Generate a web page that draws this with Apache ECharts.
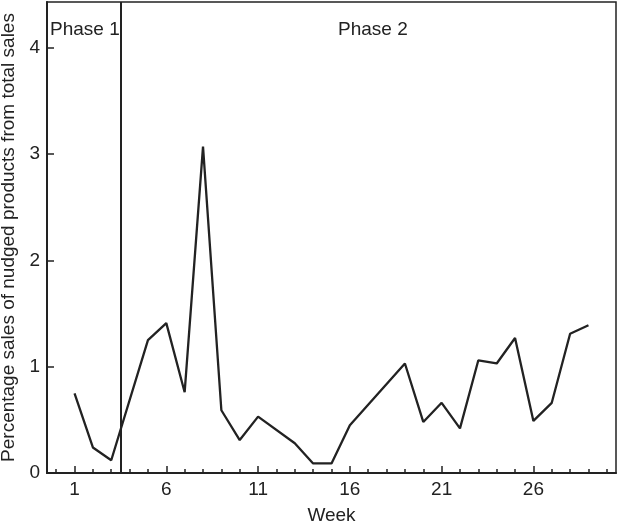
<!DOCTYPE html>
<html><head><meta charset="utf-8">
<script src="https://cdn.jsdelivr.net/npm/echarts@6/dist/echarts.min.js"></script>
<style>html,body{margin:0;padding:0;background:#fff}#c{width:618px;height:531px}</style>
</head><body><div id="c"></div>
<script>
const weeks = [1, 2, 3, 5, 6, 7, 8, 9, 10, 11, 13, 14, 15, 16, 19, 20, 21, 22, 23, 24, 25, 26, 27, 28, 29];
const share = [0.75, 0.24, 0.12, 1.25, 1.41, 0.76, 3.07, 0.59, 0.31, 0.53, 0.28, 0.09, 0.09, 0.45, 1.03, 0.48, 0.66, 0.42, 1.06, 1.03, 1.27, 0.49, 0.66, 1.31, 1.39];
const xMajorTicks = [1, 6, 11, 16, 21, 26];
const xMinorTicks = [0,1,2,3,4,5,6,7,8,9,10,11,12,13,14,15,16,17,18,19,20,21,22,23,24,25,26,27,28,29,30];
const yTicks = [0, 1, 2, 3, 4];
const phaseBoundary = 3.5;
const phaseLabels = ['Phase 1', 'Phase 2'];

const ink = '#222';
const font = 'Liberation Sans, Arial, sans-serif';
const chart = echarts.init(document.getElementById('c'), null, {renderer: 'canvas'});
chart.setOption({
  animation: false,
  backgroundColor: '#fff',
  grid: {left: 47, right: 2, top: 2, bottom: 58, show: true, borderColor: ink, borderWidth: 1.5,
         backgroundColor: 'transparent', containLabel: false, outerBoundsMode: 'none'},
  xAxis: [{
    type: 'value', min: -0.5, max: 30.5,
    name: 'Week', nameLocation: 'middle', nameGap: 33,
    nameTextStyle: {color: ink, fontSize: 19, fontFamily: font},
    axisLine: {show: true, onZero: false, lineStyle: {color: ink, width: 2}},
    axisTick: {show: true, inside: true, length: 7, customValues: xMajorTicks, lineStyle: {color: ink, width: 1.5}},
    axisLabel: {customValues: xMajorTicks, color: ink, fontSize: 19, fontFamily: font, margin: 7},
    splitLine: {show: false}
  }, {
    type: 'value', min: -0.5, max: 30.5, position: 'bottom',
    axisLine: {show: false, onZero: false},
    axisTick: {show: true, inside: true, length: 4, customValues: xMinorTicks, lineStyle: {color: ink, width: 1.5}},
    axisLabel: {show: false},
    splitLine: {show: false}
  }],
  yAxis: {
    type: 'value', min: 0, max: 4.43,
    name: 'Percentage sales of nudged products from total sales',
    nameLocation: 'middle', nameGap: 20,
    nameTextStyle: {color: ink, fontSize: 19, fontFamily: font},
    axisLine: {show: true, onZero: false, lineStyle: {color: ink, width: 2}},
    axisTick: {show: true, inside: true, length: 7, customValues: yTicks, lineStyle: {color: ink, width: 1.5}},
    axisLabel: {customValues: yTicks, color: ink, fontSize: 19, fontFamily: font, margin: 7},
    splitLine: {show: false}
  },
  series: [{
    type: 'line',
    data: weeks.map((w, i) => [w, share[i]]),
    showSymbol: false,
    lineStyle: {color: ink, width: 2.3},
    markLine: {
      silent: true, symbol: 'none', animation: false,
      label: {show: false},
      lineStyle: {color: ink, width: 2, type: 'solid'},
      data: [{xAxis: phaseBoundary}]
    }
  }],
  graphic: [
    {type: 'text', left: 50, top: 20, style: {text: phaseLabels[0], fill: ink, font: '19px ' + font}},
    {type: 'text', left: 338, top: 20, style: {text: phaseLabels[1], fill: ink, font: '19px ' + font}}
  ]
});
</script>
</body></html>
